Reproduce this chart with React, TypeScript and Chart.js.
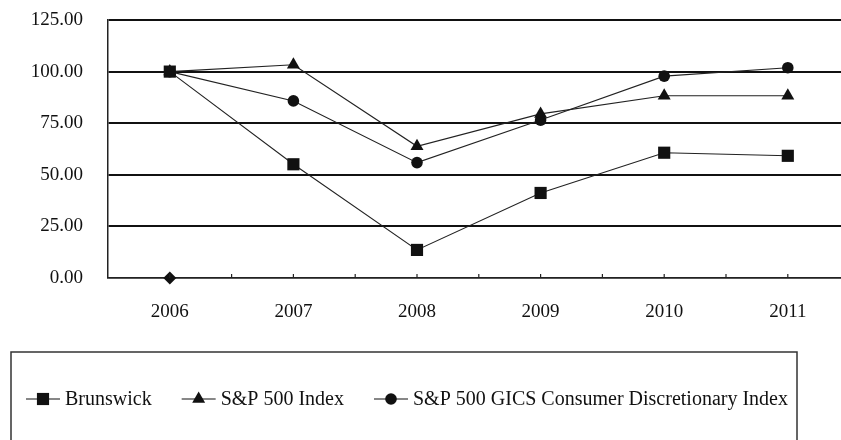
import React, { useEffect, useRef } from "react";
import { Chart, registerables } from "chart.js";

Chart.register(...registerables);

// ---- data ----
const years = ["2006", "2007", "2008", "2009", "2010", "2011"];
const brunswick = [100, 55.1, 13.6, 41.2, 60.7, 59.2];
const sp500 = [100, 103.3, 63.8, 79.5, 88.3, 88.3];
const spDiscretionary = [100, 85.8, 55.9, 76.5, 97.8, 101.9];
const strayPoint = [0, null, null, null, null, null];
const seriesNames = [
  "Brunswick",
  "S&P 500 Index",
  "S&P 500 GICS Consumer Discretionary Index",
];
const yMin = 0;
const yMax = 125;
const yStep = 25;

const FONT = "'Liberation Serif', 'Times New Roman', serif";
const INK = "#111";

function drawMarker(ctx: CanvasRenderingContext2D, style: string, r: number, x: number, y: number) {
  ctx.beginPath();
  if (style === "rect") {
    const s = Math.SQRT1_2 * r;
    ctx.rect(x - s, y - s, 2 * s, 2 * s);
  } else if (style === "triangle") {
    ctx.moveTo(x, y - r);
    ctx.lineTo(x + 0.866 * r, y + 0.5 * r);
    ctx.lineTo(x - 0.866 * r, y + 0.5 * r);
    ctx.closePath();
  } else {
    ctx.arc(x, y, r, 0, Math.PI * 2);
  }
  ctx.fillStyle = INK;
  ctx.fill();
}

const boxLegend = {
  id: "boxLegend",
  afterDraw(chart: any) {
    const ctx: CanvasRenderingContext2D = chart.ctx;
    ctx.save();
    ctx.strokeStyle = "#333";
    ctx.lineWidth = 1.5;
    ctx.strokeRect(11, 352, 786, 94);
    ctx.font = `20px ${FONT}`;
    ctx.textBaseline = "middle";
    const y = 399;
    let x = 26;
    chart.data.datasets.forEach((ds: any) => {
      if (!ds.label) return;
      ctx.beginPath();
      ctx.moveTo(x, y);
      ctx.lineTo(x + 34, y);
      ctx.strokeStyle = INK;
      ctx.lineWidth = 1.2;
      ctx.stroke();
      drawMarker(ctx, ds.pointStyle, ds.pointRadius, x + 17, y);
      ctx.fillStyle = INK;
      ctx.fillText(ds.label, x + 39, y + 1);
      x += 39 + ctx.measureText(ds.label).width + 30;
    });
    ctx.restore();
  },
};

const innerTicks = {
  id: "innerTicks",
  afterDraw(chart: any) {
    const xs = chart.scales.x;
    const bottom = chart.chartArea.bottom;
    const ctx: CanvasRenderingContext2D = chart.ctx;
    const n = chart.data.labels.length;
    const half = (xs.getPixelForValue(1) - xs.getPixelForValue(0)) / 2;
    ctx.save();
    ctx.strokeStyle = "#222";
    ctx.lineWidth = 1.2;
    for (let i = 0; i < n; i++) {
      const c = xs.getPixelForValue(i);
      for (const px of [c, c + half]) {
        ctx.beginPath();
        ctx.moveTo(px, bottom);
        ctx.lineTo(px, bottom - 4);
        ctx.stroke();
      }
    }
    ctx.restore();
  },
};

export default function App() {
  const ref = useRef<HTMLCanvasElement>(null);

  useEffect(() => {
    const lineCommon = {
      borderColor: "#222",
      backgroundColor: INK,
      pointBackgroundColor: INK,
      pointBorderWidth: 0,
      borderWidth: 1.1,
      tension: 0,
      clip: false as any,
    };
    const chart = new Chart(ref.current as HTMLCanvasElement, {
      type: "line",
      data: {
        labels: years,
        datasets: [
          { ...lineCommon, label: seriesNames[0], data: brunswick, pointStyle: "rect", pointRadius: 8.6 },
          { ...lineCommon, label: seriesNames[1], data: sp500, pointStyle: "triangle", pointRadius: 7.5 },
          { ...lineCommon, label: seriesNames[2], data: spDiscretionary, pointStyle: "circle", pointRadius: 5.8 },
          { ...lineCommon, label: "", data: strayPoint, pointStyle: "rectRot", pointRadius: 6.5, showLine: false },
        ] as any,
      },
      options: {
        responsive: false,
        animation: false,
        layout: { padding: { left: 0, top: 20, right: 30.4, bottom: 112 } },
        plugins: { legend: { display: false }, tooltip: { enabled: false } },
        scales: {
          x: {
            offset: true,
            grid: { display: false, drawTicks: false },
            border: { display: true, color: "#222", width: 1.5 },
            ticks: { color: INK, font: { family: FONT, size: 19 }, padding: 23, maxRotation: 0 },
            afterFit: (s: any) => { s.height = 50; },
          },
          y: {
            min: yMin,
            max: yMax,
            grid: {
              color: INK,
              lineWidth: (c: any) => (c.tick && c.tick.value === 0 ? 1.5 : 2),
              drawTicks: true,
              tickLength: 25,
              tickColor: "rgba(0,0,0,0)",
            },
            border: { display: true, color: "#222", width: 1.5 },
            ticks: {
              stepSize: yStep,
              color: INK,
              font: { family: FONT, size: 19 },
              padding: 0,
              callback: (v: any) => Number(v).toFixed(2),
            },
            afterFit: (s: any) => { s.width = 108; },
          },
        },
      },
      plugins: [innerTicks, boxLegend],
    });
    return () => chart.destroy();
  }, []);

  return (
    <div style={{ position: "fixed", left: 0, top: 0, width: 841, height: 440, overflow: "hidden", background: "#fff" }}>
      <canvas ref={ref} width={880} height={440} style={{ display: "block", width: 880, height: 440 }} />
    </div>
  );
}
